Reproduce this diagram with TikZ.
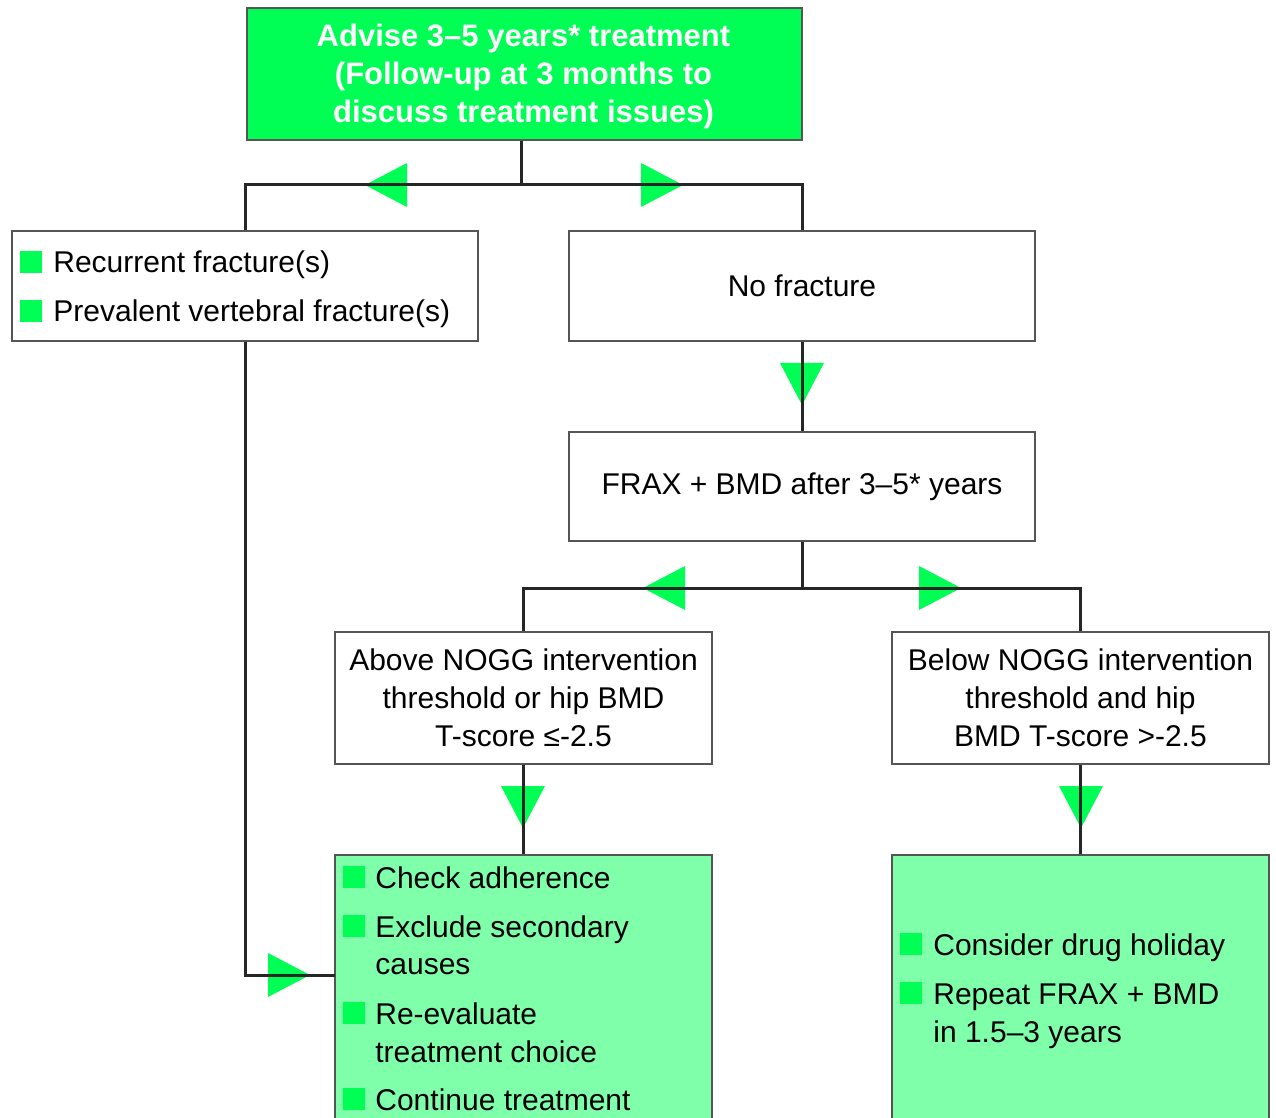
\documentclass[tikz,border=0pt]{standalone}
\usepackage{fontspec}
\setmainfont{Liberation Sans}
\definecolor{bgreen}{HTML}{00FF55}
\definecolor{lgreen}{HTML}{80FFAA}
\definecolor{edge}{HTML}{555555}
\begin{document}
\begin{tikzpicture}[x=0.5pt,y=-0.5pt,
  box/.style={draw=edge,line width=1pt,fill=white,rectangle,inner sep=0pt,
              font=\fontsize{15}{19}\selectfont,align=center},
  conn/.style={line width=1.5pt,black!85},
  tri/.style={fill=bgreen},
  bul/.style={fill=bgreen,minimum size=11pt,inner sep=0pt,anchor=south west},
  txt/.style={inner sep=0pt,anchor=base west,font=\fontsize{15}{19}\selectfont}]
\useasboundingbox (0,0) rectangle (1276,1118);
\clip (0,0) rectangle (1276,1118);

% boxes
\node[box,fill=bgreen,minimum width=277.5pt,minimum height=66pt] (top) at (524.5,74) {};
\node[inner sep=0pt,align=center,text=white,font=\bfseries\fontsize{15.5}{19}\selectfont]
  (toptext) at (523.5,76)
  {Advise 3--5 years* treatment\\(Follow-up at 3 months to\\discuss treatment issues)};
\node[box,minimum width=233pt,minimum height=55pt] (rec) at (245,286) {};
\node[box,minimum width=233pt,minimum height=55pt] (nofr) at (802,286) {No fracture};
\node[box,minimum width=233pt,minimum height=54.5pt] (frax) at (802,486.5) {FRAX + BMD after 3--5* years};
\node[box,minimum width=188.5pt,minimum height=66pt] (above) at (523.5,698)
  {Above NOGG intervention\\threshold or hip BMD\\T-score ≤-2.5};
\node[box,minimum width=188.5pt,minimum height=66pt] (below) at (1080.5,698)
  {Below NOGG intervention\\threshold and hip\\BMD T-score >-2.5};
\node[box,fill=lgreen,minimum width=188.5pt,minimum height=137.5pt] (act) at (523.5,992.5) {};
\node[box,fill=lgreen,minimum width=188.5pt,minimum height=137.5pt] (hol) at (1080.5,992.5) {};

% arrowheads
\fill[tri] (407,163) -- (407,207) -- (365,185) -- cycle;
\fill[tri] (641,163) -- (641,207) -- (683,185) -- cycle;
\fill[tri] (780,363) -- (824,363) -- (802,405) -- cycle;
\fill[tri] (685,566) -- (685,610) -- (643,588) -- cycle;
\fill[tri] (919,566) -- (919,610) -- (961,588) -- cycle;
\fill[tri] (501,786) -- (545,786) -- (523,828) -- cycle;
\fill[tri] (1059,786) -- (1103,786) -- (1081,828) -- cycle;
\fill[tri] (268,953) -- (268,997) -- (310,975) -- cycle;

% connectors
\coordinate (j1) at (521,185);
\coordinate (j2) at (802,588);
\coordinate (j3) at (335,975);
\draw[conn] (top.south -| j1) -- (j1);
\draw[conn] (rec.north) |- (j1) -| (nofr.north);
\draw[conn] (nofr.south) -- (frax.north);
\draw[conn] (frax.south) -- (j2);
\draw[conn] (above.north) |- (j2) -| (below.north);
\draw[conn] (above.south) -- (act.north);
\draw[conn] (below.south) -- (hol.north);
\draw[conn] (rec.south) |- (j3);

% bullet lists
\node[bul] (b1) at (20,273) {};  \node[txt] (t1) at (53,273) {Recurrent fracture(s)};
\node[bul] (b2) at (20,322) {};  \node[txt] (t2) at (53,322) {Prevalent vertebral fracture(s)};

\node[bul] (b3) at (343,888) {}; \node[txt] (t3) at (375,888) {Check adherence};
\node[bul] (b4) at (343,937) {}; \node[txt] (t4) at (375,937) {Exclude secondary};
\node[txt] (t4b) at (375,974) {causes};
\node[bul] (b5) at (343,1024) {}; \node[txt] (t5) at (375,1024) {Re-evaluate};
\node[txt] (t5b) at (375,1062) {treatment choice};
\node[bul] (b6) at (343,1110) {}; \node[txt] (t6) at (375,1110) {Continue treatment};

\node[bul] (b7) at (900,955) {}; \node[txt] (t7) at (933,955) {Consider drug holiday};
\node[bul] (b8) at (900,1004) {}; \node[txt] (t8) at (933,1004) {Repeat FRAX + BMD};
\node[txt] (t8b) at (933,1042) {in 1.5--3 years};
\end{tikzpicture}
\end{document}
